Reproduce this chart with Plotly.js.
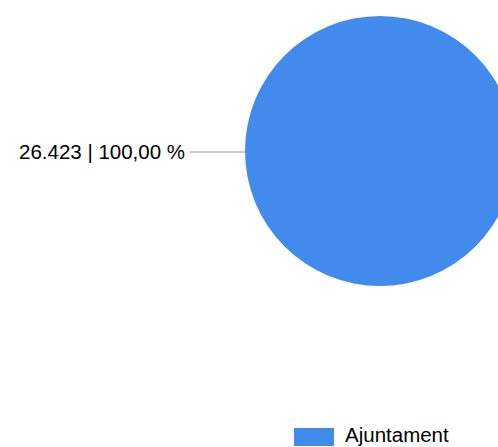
<!DOCTYPE html>
<html>
<head>
<meta charset="utf-8">
<script src="https://cdn.plot.ly/plotly-3.0.1.min.js"></script>
<style>
html,body{margin:0;padding:0;overflow:hidden;background:#fff;width:498px;height:447px;}
#chart{width:560px;height:447px;}
</style>
</head>
<body>
<div id="chart"></div>
<script>
const categories = ["Ajuntament"];
const values = [26423];
const percentLabels = ["100,00 %"];
const valueLabels = ["26.423"];
const colors = ["#428BED"];

const W = 560, H = 447;
const cx = 380, cy = 151, r = 135;
const px = x => x / W;
const py = y => 1 - y / H;

const trace = {
  type: "pie",
  labels: categories,
  values: values,
  marker: {colors: colors, line: {width: 0}},
  textinfo: "none",
  hoverinfo: "label+value+percent",
  sort: false,
  direction: "clockwise",
  rotation: 90,
  showlegend: false,
  domain: {x: [px(cx - r), px(cx + r)], y: [py(cy + r), py(cy - r)]}
};

const font = {family: "Liberation Sans, Arial, sans-serif", size: 20.5, color: "#000"};

const layout = {
  width: W, height: H,
  margin: {l: 0, r: 0, t: 0, b: 0},
  paper_bgcolor: "#fff",
  showlegend: false,
  shapes: [
    {type: "line", xref: "paper", yref: "paper", x0: px(190), x1: px(cx - r), y0: py(152), y1: py(152),
     line: {color: "#999999", width: 1}},
    {type: "rect", xref: "paper", yref: "paper", x0: px(294), x1: px(334), y0: py(428), y1: py(446),
     fillcolor: colors[0], line: {width: 0}}
  ],
  annotations: [
    {xref: "paper", yref: "paper", x: px(187), y: py(151), xanchor: "right", yanchor: "middle",
     text: valueLabels[0] + " | " + percentLabels[0], showarrow: false, font: font},
    {xref: "paper", yref: "paper", x: px(343), y: py(434.5), xanchor: "left", yanchor: "middle",
     text: categories[0], showarrow: false, font: font}
  ]
};

Plotly.newPlot("chart", [trace], layout, {displayModeBar: false, staticPlot: true});
</script>
</body>
</html>
